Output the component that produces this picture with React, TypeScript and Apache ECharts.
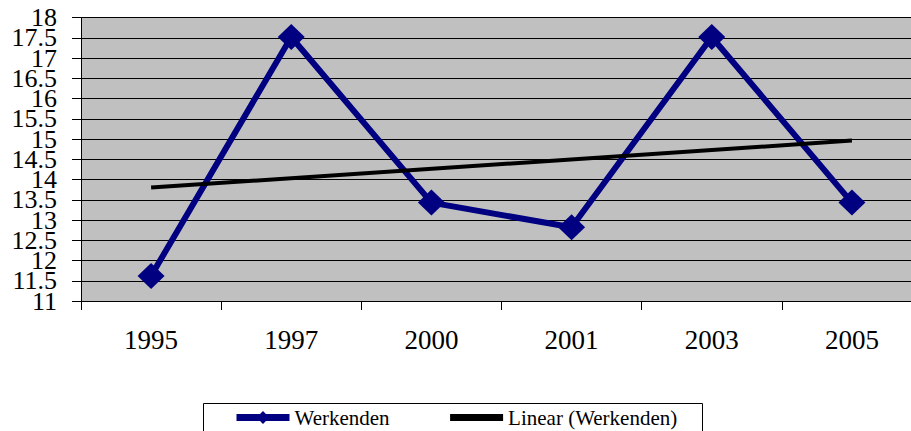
import React, { useEffect, useRef } from "react";
import * as echarts from "echarts";

const categories = ["1995", "1997", "2000", "2001", "2003", "2005"];
const werkenden = [11.62, 17.52, 13.43, 12.82, 17.52, 13.43];
const trendEnds = [13.8, null, null, null, null, 14.96];
const seriesNames = ["Werkenden", "Linear (Werkenden)"];
const yTickLabels = [
  "11", "11.5", "12", "12.5", "13", "13.5", "14", "14.5",
  "15", "15.5", "16", "16.5", "17", "17.5", "18",
];

const FONT = "'Liberation Serif', 'Times New Roman', serif";

export default function App() {
  const ref = useRef<HTMLDivElement>(null);
  useEffect(() => {
    if (!ref.current) return;
    const chart = echarts.init(ref.current, null, { renderer: "svg" });
    chart.setOption({
      animation: false,
      backgroundColor: "#ffffff",
      grid: {
        left: 81,
        top: 17.5,
        width: 841,
        height: 283.5,
        show: true,
        backgroundColor: "#C0C0C0",
        borderWidth: 0,
        containLabel: false,
        outerBoundsMode: "none",
      },
      xAxis: {
        type: "category",
        data: categories,
        boundaryGap: true,
        axisLine: { show: true, lineStyle: { color: "#000000", width: 1 } },
        axisTick: { show: true, length: 9, alignWithLabel: false, lineStyle: { color: "#000000" } },
        axisLabel: { color: "#000000", fontFamily: FONT, fontSize: 27, margin: 25, interval: 0 },
        splitLine: { show: false },
      },
      yAxis: [
        {
          type: "value",
          min: 11,
          max: 18,
          interval: 0.5,
          axisLine: { show: true, lineStyle: { color: "#000000", width: 1 } },
          axisTick: { show: true, length: 9, lineStyle: { color: "#000000" } },
          axisLabel: { show: false },
          splitLine: { show: true, lineStyle: { color: "#000000", width: 1 } },
        },
        {
          type: "category",
          position: "left",
          data: yTickLabels,
          boundaryGap: false,
          axisLine: { show: false },
          axisTick: { show: false },
          splitLine: { show: false },
          axisLabel: {
            interval: 0,
            color: "#000000",
            fontFamily: FONT,
            fontSize: 26,
            margin: 24,
          },
        },
      ],
      legend: {
        left: 233,
        top: 407,
        itemWidth: 53,
        itemHeight: 16,
        itemGap: 57,
        padding: 0,
        textStyle: { color: "#000000", fontFamily: FONT, fontSize: 21 },
        lineStyle: { width: 7 },
        data: [
          { name: seriesNames[0] },
          { name: seriesNames[1], itemStyle: { opacity: 0 } },
        ],
      },
      graphic: [
        {
          type: "rect",
          left: 203,
          top: 403,
          shape: { width: 499, height: 40 },
          style: { fill: "#ffffff", stroke: "#000000", lineWidth: 1 },
          z: -1,
        },
      ],
      series: [
        {
          name: seriesNames[0],
          type: "line",
          yAxisIndex: 0,
          data: werkenden,
          symbol: "diamond",
          symbolSize: [27, 26],
          itemStyle: { color: "#000080" },
          lineStyle: { color: "#000080", width: 6 },
          z: 3,
        },
        {
          name: seriesNames[1],
          type: "line",
          yAxisIndex: 0,
          data: trendEnds,
          connectNulls: true,
          symbol: "none",
          showSymbol: false,
          itemStyle: { color: "#000000" },
          lineStyle: { color: "#000000", width: 4 },
          z: 4,
        },
      ],
    });
    return () => chart.dispose();
  }, []);
  return (
    <div
      ref={ref}
      style={{ position: "fixed", left: 0, top: 0, width: 911, height: 431 }}
    />
  );
}
